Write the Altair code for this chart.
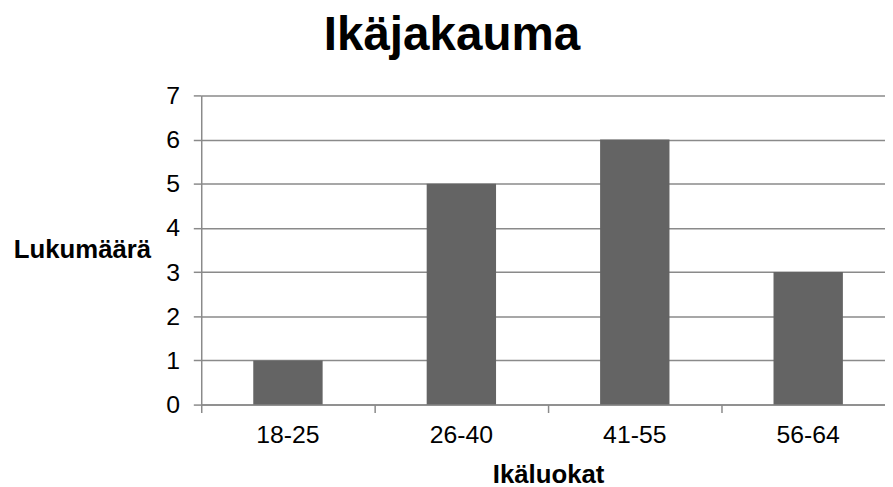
import altair as alt
import pandas as pd

categories = ["18-25", "26-40", "41-55", "56-64"]
counts = [1, 5, 6, 3]

df = pd.DataFrame({"Ikäluokat": categories, "Lukumäärä": counts})

FONT = "Liberation Sans"
GRID = "#8a8a8a"

chart = alt.Chart(df).mark_bar(color="#646464").encode(
    x=alt.X(
        "Ikäluokat:N",
        sort=categories,
        scale=alt.Scale(paddingInner=0.6, paddingOuter=0.3, range=[0, 700]),
        axis=alt.Axis(
            title="Ikäluokat",
            labelAngle=0,
            bandPosition=-0.75,
            tickSize=8,
            labelPadding=10,
            titlePadding=15,
            titleX=350,
            grid=False,
        ),
    ),
    y=alt.Y(
        "Lukumäärä:Q",
        scale=alt.Scale(domain=[0, 7], nice=False),
        axis=alt.Axis(
            title="Lukumäärä",
            values=[0, 1, 2, 3, 4, 5, 6, 7],
            tickSize=8,
            labelPadding=14,
            titleAngle=0,
            titleAlign="right",
            titleBaseline="middle",
            titleX=-51,
            titleY=156,
            grid=True,
        ),
    ),
).properties(
    width=690,
    height=312,
    autosize=alt.AutoSizeParams(type="none"),
    padding={"left": 195, "top": 86, "right": 0, "bottom": 86},
    title=alt.TitleParams(
        "Ikäjakauma",
        font=FONT,
        fontSize=48,
        fontWeight="bold",
        color="#000000",
        anchor="middle",
        dx=-92,
        offset=24,
    ),
).configure_axis(
    labelFont=FONT,
    labelFontSize=25,
    labelColor="#000000",
    titleFont=FONT,
    titleFontSize=26,
    titleFontWeight="bold",
    titleColor="#000000",
    domainColor=GRID,
    domainWidth=1.5,
    tickColor=GRID,
    tickWidth=1.5,
    gridColor=GRID,
    gridWidth=1.5,
).configure_view(
    stroke=None
)

chart.save("out.html", embed_options={"renderer": "svg", "actions": False})
